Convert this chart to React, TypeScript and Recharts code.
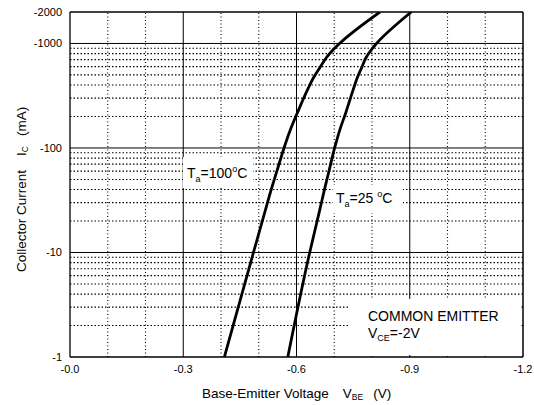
import { LineChart, Line, XAxis, YAxis, ReferenceLine } from 'recharts'

// Ta = 100 °C curve, VBE (V) vs IC (mA, shown as negative)
const hot = [
  { v: -0.409, i: 1 },
  { v: -0.486, i: 10 },
  { v: -0.517, i: 25 },
  { v: -0.533, i: 40 },
  { v: -0.548, i: 60 },
  { v: -0.567, i: 100 },
  { v: -0.584, i: 150 },
  { v: -0.603, i: 220 },
  { v: -0.629, i: 360 },
  { v: -0.645, i: 470 },
  { v: -0.661, i: 580 },
  { v: -0.679, i: 730 },
  { v: -0.697, i: 870 },
  { v: -0.714, i: 1000 },
  { v: -0.821, i: 2000 }
]

// Ta = 25 °C curve
const room = [
  { v: -0.577, i: 1 },
  { v: -0.635, i: 10 },
  { v: -0.661, i: 25 },
  { v: -0.674, i: 40 },
  { v: -0.686, i: 60 },
  { v: -0.701, i: 100 },
  { v: -0.715, i: 150 },
  { v: -0.731, i: 220 },
  { v: -0.75, i: 360 },
  { v: -0.761, i: 470 },
  { v: -0.772, i: 580 },
  { v: -0.784, i: 730 },
  { v: -0.798, i: 870 },
  { v: -0.812, i: 1000 },
  { v: -0.904, i: 2000 }
]

const xTicks = [0, -0.3, -0.6, -0.9, -1.2]
const yTicks = [1, 10, 100, 1000, 2000]
const xMajor = [-0.3, -0.6, -0.9]
const xMinor = [-0.1, -0.2, -0.4, -0.5, -0.7, -0.8, -1.0, -1.1]
const yMajor = [10, 100, 1000]
const yMinor = [2, 3, 4, 5, 6, 7, 8, 9, 20, 30, 40, 50, 60, 70, 80, 90, 200, 300, 400, 500, 600, 700, 800, 900]

const font = '"Liberation Sans", Arial, sans-serif'

const fmtX = (v: number) => (v === 0 ? '-0.0' : v.toFixed(1))
const fmtY = (v: number) => '-' + v

const App = () => {
  return (
    <div style={{ position: 'absolute', left: 0, top: 0, width: 534, height: 405, background: '#fff' }}>
      <LineChart width={534} height={405} margin={{ top: 12, right: 11, bottom: 0, left: 0 }}>
        <XAxis
          type="number"
          dataKey="v"
          domain={[-1.2, 0]}
          reversed
          ticks={xTicks}
          tickFormatter={fmtX}
          tickLine={false}
          axisLine={false}
          height={48}
          tick={{ fill: '#000', fontSize: 11, fontFamily: font }}
          allowDataOverflow
        />
        <YAxis
          type="number"
          scale="log"
          domain={[1, 2000]}
          ticks={yTicks}
          tickFormatter={fmtY}
          tickLine={false}
          axisLine={false}
          width={70}
          tick={{ fill: '#000', fontSize: 11, fontFamily: font }}
          allowDataOverflow
        />

        {xMinor.map((x) => (
          <ReferenceLine key={'xm' + x} x={x} stroke="#000" strokeWidth={1.1} strokeDasharray="1 2.5" />
        ))}
        {yMinor.map((y) => (
          <ReferenceLine key={'ym' + y} y={y} stroke="#000" strokeWidth={1.1} strokeDasharray="1.5 2" />
        ))}
        {xMajor.map((x) => (
          <ReferenceLine key={'xM' + x} x={x} stroke="#000" strokeWidth={1} />
        ))}
        {yMajor.map((y) => (
          <ReferenceLine key={'yM' + y} y={y} stroke="#000" strokeWidth={1} />
        ))}

        {/* plot frame */}
        <ReferenceLine x={0} stroke="#000" strokeWidth={1.3} />
        <ReferenceLine x={-1.2} stroke="#000" strokeWidth={1.5} />
        <ReferenceLine y={1} stroke="#000" strokeWidth={1.5} />
        <ReferenceLine y={2000} stroke="#000" strokeWidth={1.3} />

        <Line data={hot} dataKey="i" type="monotoneY" stroke="#000" strokeWidth={2.8} dot={false} isAnimationActive={false} />
        <Line data={room} dataKey="i" type="monotoneY" stroke="#000" strokeWidth={2.8} dot={false} isAnimationActive={false} />
      </LineChart>

      <svg
        width={534}
        height={405}
        style={{ position: 'absolute', left: 0, top: 0, pointerEvents: 'none' }}
        fontFamily={font}
      >
        <rect x={183} y={157} width={70} height={31} fill="#fff" />
        <rect x={333} y={185} width={70} height={28} fill="#fff" />
        <rect x={350} y={299} width={171} height={56} fill="#fff" />

        <text x={187} y={178} fontSize={14} fill="#000">
          T<tspan fontSize={9} dy={4}>a</tspan>
          <tspan dy={-4}>=100</tspan>
          <tspan fontSize={9} dy={-6}>o</tspan>
          <tspan dy={6}>C</tspan>
        </text>
        <text x={336} y={203} fontSize={14} fill="#000">
          T<tspan fontSize={9} dy={4}>a</tspan>
          <tspan dy={-4}>=25</tspan>
          <tspan fontSize={9} dy={-6} dx={4}>o</tspan>
          <tspan dy={6}>C</tspan>
        </text>

        <text x={368} y={321} fontSize={14} fill="#000">COMMON EMITTER</text>
        <text x={368} y={338} fontSize={14} fill="#000">
          V<tspan fontSize={9} dy={3}>CE</tspan>
          <tspan dy={-3}>=-2V</tspan>
        </text>

        <text x={202} y={398} fontSize={13.5} fill="#000">
          Base-Emitter Voltage
          <tspan dx={14}>V</tspan>
          <tspan fontSize={8.5} dy={2}>BE</tspan>
          <tspan dx={10} dy={-2}>(V)</tspan>
        </text>

        <text transform="translate(26,272) rotate(-90)" fontSize={13.5} fill="#000">
          Collector Current
          <tspan dx={14}>I</tspan>
          <tspan fontSize={8.5} dy={2}>C</tspan>
          <tspan dx={10} dy={-2}>(mA)</tspan>
        </text>
      </svg>
    </div>
  )
}

export default App
